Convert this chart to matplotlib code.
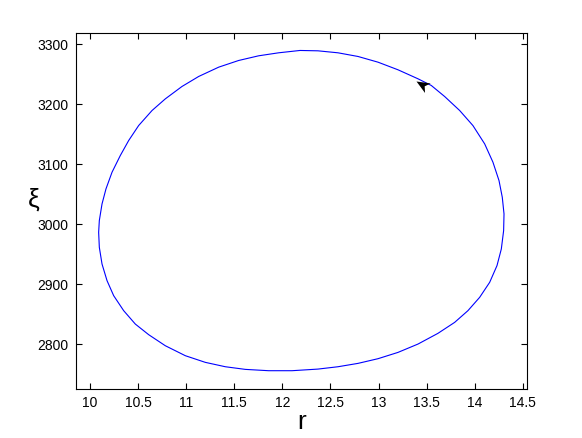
import numpy as np
import matplotlib
matplotlib.use("Agg")
import matplotlib.pyplot as plt
from matplotlib.path import Path
from matplotlib.markers import MarkerStyle
from matplotlib.transforms import Affine2D

plt.rcParams['font.family'] = ['Liberation Sans', 'DejaVu Sans']

# Trajectory (counterclockwise, starting at the top point)
r_vals = [12.183,
          11.961, 11.753, 11.545, 11.338, 11.130, 10.956, 10.783, 10.645,
          10.506, 10.402, 10.315, 10.229, 10.166, 10.125, 10.097, 10.090,
          10.097, 10.125, 10.177, 10.246, 10.350, 10.471, 10.610, 10.783,
          10.991, 11.199, 11.407, 11.615, 11.857, 12.100, 12.370, 12.578,
          12.786, 12.994, 13.202, 13.410, 13.617, 13.791, 13.929, 14.051,
          14.155, 14.231, 14.276, 14.300, 14.304,
          14.286, 14.252, 14.189, 14.103, 13.981, 13.843, 13.687,
          13.548, 13.410, 13.202, 12.994, 12.786, 12.578, 12.370, 12.183]
xi_vals = [3289.4,
           3285.5, 3280.5, 3272.7, 3261.6, 3246.1, 3229.4, 3208.8, 3189.4,
           3164.4, 3139.4, 3114.4, 3086.6, 3058.8, 3033.8, 3006.1, 2986.6,
           2961.6, 2933.8, 2906.1, 2881.1, 2856.1, 2833.8, 2816.1, 2797.7,
           2781.1, 2770.0, 2762.7, 2758.3, 2756.1, 2756.1, 2758.8, 2762.7,
           2768.3, 2776.1, 2786.6, 2800.5, 2818.3, 2836.6, 2856.1, 2878.3,
           2903.3, 2931.1, 2958.8, 2989.4, 3017.2,
           3044.9, 3072.7, 3103.3, 3133.8, 3164.3, 3189.4, 3212.7,
           3231.1, 3242.2, 3257.2, 3269.9, 3279.4, 3285.5, 3288.8, 3289.4]

# Arrow (direction of motion): a point behind the head, and the tip
arrow_from = (13.503, 3228.8)
arrow_to = (13.392, 3239.3)

x_ticks = [10, 10.5, 11, 11.5, 12, 12.5, 13, 13.5, 14, 14.5]
x_tick_labels = ['10', '10.5', '11', '11.5', '12', '12.5', '13', '13.5', '14', '14.5']
y_ticks = [2800, 2900, 3000, 3100, 3200, 3300]
y_tick_labels = ['2800', '2900', '3000', '3100', '3200', '3300']

fig = plt.figure(figsize=(5.82, 4.38), dpi=100)
ax = fig.add_axes([0.13, 0.111, 0.776, 0.813])

ax.plot(r_vals, xi_vals, color='#0000ff', linewidth=0.8,
        solid_joinstyle='round', solid_capstyle='round')

ax.set_xlim(9.851, 14.546)
ax.set_ylim(2725, 3318)

# Stealth-style arrowhead marker, oriented along the motion in display space
p0 = ax.transData.transform(arrow_from)
p1 = ax.transData.transform(arrow_to)
angle = np.degrees(np.arctan2(p1[1] - p0[1], p1[0] - p0[0]))
head = Path([(0, 0), (-1, 0.42), (-0.72, 0), (-1, -0.42), (0, 0)],
            [Path.MOVETO, Path.LINETO, Path.LINETO, Path.LINETO, Path.CLOSEPOLY])
marker = MarkerStyle(head, transform=Affine2D().rotate_deg(angle))
ax.plot([arrow_to[0]], [arrow_to[1]], linestyle='none', marker=marker,
        markersize=19, color='black', markeredgewidth=0)

ax.set_xticks(x_ticks)
ax.set_xticklabels(x_tick_labels)
ax.set_yticks(y_ticks)
ax.set_yticklabels(y_tick_labels)
ax.tick_params(direction='in', length=4, width=0.8, labelsize=10,
               top=True, right=True, pad=5)
for s in ax.spines.values():
    s.set_linewidth(0.8)

ax.set_xlabel('r', fontsize=19, labelpad=0)
ax.set_ylabel('ξ', fontsize=19, rotation=0, va='center', ha='center')
ax.yaxis.set_label_coords(-0.092, 0.532)

fig.savefig('out.png', dpi=100)
